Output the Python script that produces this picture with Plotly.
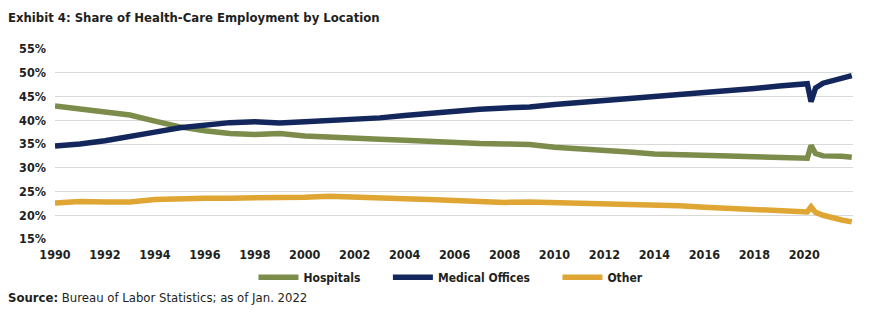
import plotly.graph_objects as go

# Share of health-care employment (%) by location, 1990-2021
dates = [1990, 1991, 1992, 1993, 1994, 1995, 1996, 1997, 1998, 1999,
         2000, 2001, 2002, 2003, 2004, 2005, 2006, 2007, 2008, 2009,
         2010, 2011, 2012, 2013, 2014, 2015, 2016, 2017, 2018, 2019,
         2020.0, 2020.12, 2020.27, 2020.45, 2020.75, 2021.0, 2021.5, 2021.9]

hospitals = [43.0, 42.3, 41.7, 41.1, 39.8, 38.6, 37.8, 37.2, 37.0, 37.2,
             36.7, 36.4, 36.2, 36.0, 35.8, 35.5, 35.3, 35.1, 35.0, 34.9,
             34.3, 34.0, 33.8, 33.3, 32.9, 32.8, 32.8, 32.5, 32.3, 32.1,
             32.0, 32.0, 34.7, 33.0, 32.5, 32.5, 32.4, 32.2]

medical_offices = [34.6, 35.0, 35.7, 36.5, 37.5, 38.4, 39.0, 39.5, 39.7, 39.4,
                   39.7, 40.0, 40.1, 40.5, 41.0, 41.5, 42.0, 42.3, 42.6, 42.8,
                   43.3, 43.7, 44.0, 44.5, 45.0, 45.4, 45.8, 46.3, 46.7, 47.2,
                   47.6, 47.7, 43.9, 46.8, 47.8, 48.2, 48.8, 49.4]

other = [22.6, 22.9, 22.8, 22.8, 23.3, 23.5, 23.6, 23.6, 23.6, 23.6,
         23.8, 24.0, 23.9, 23.7, 23.5, 23.3, 23.1, 22.9, 22.7, 22.8,
         22.7, 22.6, 22.5, 22.4, 22.3, 22.0, 21.7, 21.5, 21.2, 20.9,
         20.7, 20.7, 21.8, 20.6, 20.0, 19.6, 19.0, 18.6]

y_ticks = [15, 20, 25, 30, 35, 40, 45, 50, 55]
x_ticks = list(range(1990, 2021, 2))

FAMILY = "DejaVu Sans Condensed, DejaVu Sans, sans-serif"
INK = "#231F20"
GAP = "\u00a0" * 6  # extra room after each legend label


def font(size, weight="bold"):
    return dict(size=size, family=FAMILY, color=INK, weight=weight)


series = [
    ("Hospitals", hospitals, "#7B8C4B"),
    ("Medical Offices", medical_offices, "#14275C"),
    ("Other", other, "#DFA633"),
]

fig = go.Figure()
for name, vals, color in series:
    fig.add_trace(go.Scatter(
        x=dates, y=vals, name=name + GAP, mode="lines",
        line=dict(color=color, width=5.5),
    ))

fig.update_layout(
    width=878, height=324,
    margin=dict(l=55, r=25, t=49, b=85),
    paper_bgcolor="white", plot_bgcolor="white",
    font=font(12),
    title=dict(
        text="Exhibit 4: Share of Health-Care Employment by Location",
        x=0.009, xanchor="left", y=0.945, yanchor="middle",
        font=font(13),
    ),
    xaxis=dict(
        range=[1990, 2021.95], tickmode="array", tickvals=x_ticks,
        showgrid=False, zeroline=False, showline=False, ticks="",
        tickfont=font(12.5), ticklabelstandoff=6,
    ),
    yaxis=dict(
        range=[15, 55], tickmode="array", tickvals=y_ticks,
        ticktext=[f"{t}%" for t in y_ticks],
        showgrid=True, gridcolor="#D9D9D9", gridwidth=1,
        zeroline=False, showline=False, ticks="",
        tickfont=font(12.5), ticklabelstandoff=8,
    ),
    legend=dict(
        orientation="h", x=0.51, xanchor="center", y=-0.125, yanchor="top",
        font=font(12), itemwidth=40, traceorder="normal",
    ),
    showlegend=True,
)

fig.add_annotation(
    text="<b>Source:</b> Bureau of Labor Statistics; as of Jan. 2022",
    xref="paper", yref="paper", x=-0.062, y=-0.31,
    xanchor="left", yanchor="middle", showarrow=False,
    font=font(13, weight="normal"),
)

fig.write_html("out.html")
